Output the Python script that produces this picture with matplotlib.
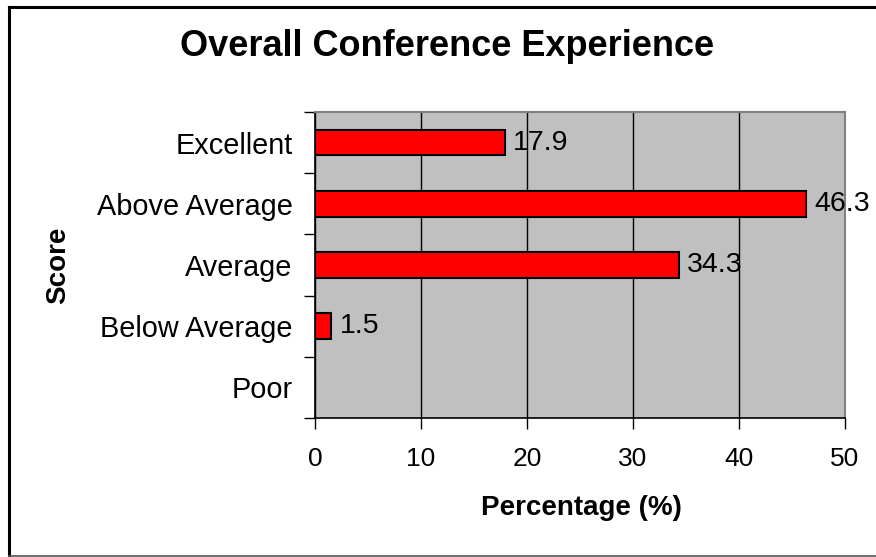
import matplotlib
matplotlib.use("Agg")
import matplotlib.pyplot as plt
from matplotlib.lines import Line2D

categories = ["Excellent", "Above Average", "Average", "Below Average", "Poor"]
values = [17.9, 46.3, 34.3, 1.5, 0.0]
value_labels = ["17.9", "46.3", "34.3", "1.5", ""]
xticks = [0, 10, 20, 30, 40, 50]

plt.rcParams['font.family'] = ['Liberation Sans', 'DejaVu Sans']

W, H = 876, 557
fig = plt.figure(figsize=(W / 100, H / 100), dpi=100)
fig.patch.set_facecolor("white")

ax = fig.add_axes([315 / W, 1 - 418 / H, (845 - 315) / W, (418 - 112) / H])
ax.set_facecolor("#C0C0C0")

n = len(categories)
ypos = list(range(n))
ax.barh(ypos, values, height=0.42, color="#FF0000", edgecolor="black", linewidth=1.5, zorder=3)
for y, v, lab in zip(ypos, values, value_labels):
    if lab:
        ax.text(v + 0.8, y, lab, va="center", ha="left", fontsize=20.5, color="black", zorder=4)

ax.set_xlim(0, 50)
ax.set_ylim(n - 0.5, -0.5)
ax.set_xticks(xticks)
ax.set_xticklabels([str(t) for t in xticks], fontsize=19)
ax.set_yticks(ypos)
ax.set_yticklabels(categories, fontsize=20.8)
ax.tick_params(axis="y", length=0, pad=16)
ax.set_yticks([i - 0.5 for i in range(n + 1)], minor=True)
ax.tick_params(axis="y", which="minor", length=8, width=1, color="black", direction="out")
ax.tick_params(axis="x", length=8, width=1, color="black", direction="out", pad=13)
ax.grid(axis="x", color="black", linewidth=1, zorder=1)
ax.set_axisbelow(True)

for s in ["left", "bottom"]:
    ax.spines[s].set_color("black")
    ax.spines[s].set_linewidth(1.2)
for s in ["top", "right"]:
    ax.spines[s].set_color("#808080")
    ax.spines[s].set_linewidth(1.5)

ax.set_xlabel("Percentage (%)", fontsize=20, fontweight="bold")
ax.xaxis.set_label_coords((581 - 315) / (845 - 315), -(508 - 418) / (418 - 112))
ax.xaxis.label.set_va("center")
ax.set_ylabel("Score", fontsize=20, fontweight="bold")
ax.yaxis.set_label_coords((58 - 315) / (845 - 315), 1 - (265 - 112) / (418 - 112))
ax.yaxis.label.set_va("center")

fig.text(447 / W, 1 - 47 / H, "Overall Conference Experience", ha="center", va="center",
         fontsize=26, fontweight="bold")

# outer frame
fig.add_artist(Line2D([9 / W, 9 / W], [1 - 7 / H, 1 - 556 / H], color="black", linewidth=2.2, transform=fig.transFigure))
fig.add_artist(Line2D([9 / W, 1.0], [1 - 7 / H, 1 - 7 / H], color="black", linewidth=2.2, transform=fig.transFigure))
fig.add_artist(Line2D([9 / W, 1.0], [1 - 556 / H, 1 - 556 / H], color="#555555", linewidth=1.2, transform=fig.transFigure))

fig.savefig("out.png", dpi=100, facecolor="white")
